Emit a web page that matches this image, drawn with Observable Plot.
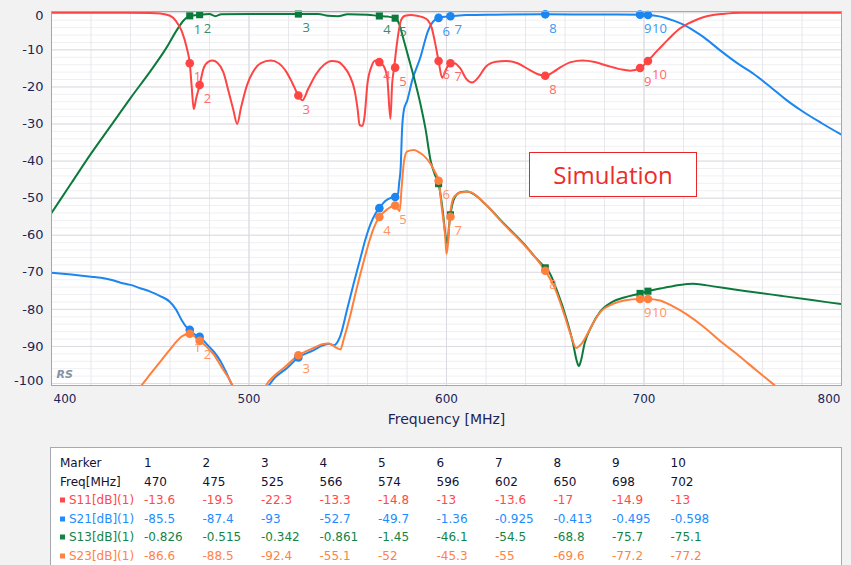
<!DOCTYPE html>
<html><head><meta charset="utf-8">
<script src="https://cdn.jsdelivr.net/npm/d3@7"></script>
<script src="https://cdn.jsdelivr.net/npm/@observablehq/plot@0.6"></script>
<style>
body{margin:0;background:#f2f2f2;}
#wrap{position:relative;width:851px;height:565px;overflow:hidden;background:#f2f2f2;font-family:"DejaVu Sans",sans-serif;}
#chart svg{display:block;}
#sim{position:absolute;left:529px;top:152px;width:166px;height:43px;border:1.5px solid #e8262a;background:#fff;color:#ee2a2a;font:24px "Open Sans",sans-serif;display:flex;align-items:center;justify-content:center;}
#table{position:absolute;left:50px;top:447px;width:790px;height:140px;border:1px solid #a8a8b0;background:#fff;}
.cell{position:absolute;font-size:12px;white-space:nowrap;line-height:1;transform:translateY(-50%);}
.sw{position:absolute;width:5px;height:5px;transform:translateY(-50%);}
</style></head><body><div id="wrap"><div id="chart"></div><div id="sim">Simulation</div><div id="table"></div></div>
<script>
// ---- tick labels ----
const xTicks = [400, 500, 600, 700, 800];
const yTicks = [0, -10, -20, -30, -40, -50, -60, -70, -80, -90, -100];

// ---- markers ----
const markerIds = [1, 2, 3, 4, 5, 6, 7, 8, 9, 10];
const markerFreq = [470, 475, 525, 566, 574, 596, 602, 650, 698, 702];
const s11Mk = [-13.6, -19.5, -22.3, -13.3, -14.8, -13, -13.6, -17, -14.9, -13];
const s21Mk = [-85.5, -87.4, -93, -52.7, -49.7, -1.36, -0.925, -0.413, -0.495, -0.598];
const s13Mk = [-0.826, -0.515, -0.342, -0.861, -1.45, -46.1, -54.5, -68.8, -75.7, -75.1];
const s23Mk = [-86.6, -88.5, -92.4, -55.1, -52, -45.3, -55, -69.6, -77.2, -77.2];

// ---- curves [MHz, dB] ----
const s11 = [[400,0],[430,0],[450,-0.05],[455,-0.2],[460,-0.8],[463,-2.2],[466,-5],[468.5,-9.5],[470,-13.6],[471,-20],[472,-26],[473.3,-23],[475,-19.5],[477,-15],[479.5,-13.2],[481.5,-12.9],[484,-13.5],[487,-16],[489.8,-21.5],[492,-26],[494,-30],[496,-25.5],[499,-19.5],[502,-16],[506,-13.6],[511,-12.9],[515,-13.6],[519,-16],[522,-19],[525,-22.3],[527,-23.6],[530,-20.5],[534,-16.5],[538,-14],[542,-13],[545,-13.2],[548,-14.5],[551,-17],[553.5,-21],[555,-26],[556,-30.3],[557.5,-30.5],[558.5,-28],[560,-19],[562,-14.5],[564,-12.9],[566,-13.3],[568,-14.2],[570,-17.5],[571.6,-28.6],[572.5,-19],[573.5,-14.8],[574.5,-10],[575.5,-6],[577,-2],[579,-0.8],[582,-0.6],[585,-0.8],[588,-1.2],[590.5,-2],[592.5,-4],[594,-7.5],[596,-13],[597.8,-17.5],[600,-15],[602,-13.6],[604,-13.6],[607,-15],[610,-17.8],[613,-18.8],[616,-17.5],[620,-14.5],[625,-13.2],[630,-13],[636,-13.6],[642,-15.4],[646,-16.5],[650,-17],[654,-16],[658,-14.6],[663,-13.3],[669,-12.9],[675,-13.3],[681,-14.2],[688,-15.2],[693,-15.6],[698,-14.9],[702,-13],[705,-11.2],[708.4,-9.3],[712,-7.3],[715,-5.7],[718,-4.3],[722,-3],[726,-2],[730,-1.2],[735,-0.6],[740,-0.3],[749,0],[800,0]];

const s13 = [[400,-54],[410,-46],[420,-38],[430,-30.5],[440,-23],[450,-15.8],[458,-9.6],[464,-4.2],[467,-2],[470,-0.826],[475,-0.515],[480,-0.35],[483,-0.9],[486,-0.4],[500,-0.3],[525,-0.342],[535,-0.3],[540,-0.8],[545,-0.9],[550,-0.4],[560,-0.5],[566,-0.861],[570,-1.0],[574,-1.45],[576,-3],[578.4,-7.5],[581,-12.5],[583.5,-17.4],[586.8,-24.6],[589.4,-31.4],[592,-40],[594,-43.5],[596,-46.1],[598,-53],[599.5,-60],[600.5,-62.5],[601.2,-58],[602,-54.5],[604,-50],[607,-48.4],[610.5,-48.2],[614,-49],[620,-51.8],[629,-56.8],[640,-62.8],[645,-66],[650,-68.8],[652,-70],[656,-75],[661,-83],[664,-89],[666,-94],[667,-95.3],[668,-94],[670,-89],[673,-85],[678,-80.5],[684,-78],[690,-76.8],[698,-75.7],[702,-75.1],[710,-74.2],[718,-73.4],[725,-73.1],[735,-73.8],[745,-74.6],[755,-75.3],[770,-76.4],[785,-77.5],[800,-78.6]];

const s21 = [[400,-70.1],[410,-70.6],[420,-71.2],[425,-71.5],[430,-72],[435,-72.8],[440,-73.4],[445,-74.3],[450,-75.2],[455,-76.4],[460,-78],[463,-80],[466,-83],[468,-84.6],[470,-85.5],[472,-86.6],[475,-87.4],[478.8,-89.5],[482,-91.3],[485.6,-94],[488,-96.5],[491.5,-100.5],[493,-102],[500,-107],[507,-102.5],[510,-100.5],[513,-98.5],[519.3,-95.8],[525,-93],[532.8,-91],[537,-89.8],[540.5,-89.3],[543,-89.7],[546,-87.5],[549.7,-80],[553,-73],[556.5,-66],[559,-61],[561.5,-57],[564,-54.2],[566,-52.7],[569,-50.8],[572,-49.9],[574,-49.7],[575.5,-48.7],[576,-46],[576.8,-41.7],[577.5,-31.5],[578.5,-26],[580.1,-23.7],[582.6,-18.3],[586.8,-12],[590.7,-4.8],[593,-2.5],[596,-1.36],[602,-0.925],[610,-0.6],[625,-0.5],[650,-0.413],[675,-0.45],[698,-0.495],[702,-0.598],[707,-0.9],[711,-1.4],[715,-2.1],[720,-3.2],[725.2,-4.8],[730,-6.5],[738.7,-10.2],[747,-13.5],[755.6,-16.5],[764,-20],[772.5,-23.7],[780,-26.5],[790,-29.8],[800,-32.9]];

const s23 = [[430,-112],[440,-105],[445.9,-100.3],[450,-97.5],[455.2,-94],[459,-91.5],[462,-89.5],[466.2,-87.2],[470,-86.6],[472.5,-87.3],[475,-88.5],[478,-89.8],[482.2,-92.2],[486,-95.5],[490.6,-99.4],[493,-102],[500,-108],[507,-102],[509.2,-100],[512,-98.3],[517.6,-95.8],[525,-92.4],[532.8,-90.4],[537,-89.4],[540,-89.2],[542,-89.5],[544,-90.3],[546.3,-90.8],[548,-88],[551.4,-81.4],[554,-75.5],[558.1,-67],[561,-61.5],[563.2,-58],[566,-55.1],[570,-53],[574,-52],[575.5,-53],[576.3,-53.5],[577.3,-47],[578.5,-40],[580.1,-37.4],[583.5,-37],[586,-37.6],[588.6,-38.6],[592,-40.8],[594,-42.8],[596,-45.3],[597.8,-53.4],[599.3,-60],[600,-65.1],[600.8,-62],[601.7,-55],[603.7,-49.8],[607.1,-48.5],[611.3,-48.3],[615,-49.3],[620,-51.8],[629,-57],[640,-63],[645,-66],[650,-69.6],[655,-74.5],[660,-82],[663,-87],[665.7,-90.4],[668,-89.5],[671.5,-86.5],[675,-83],[678.3,-80.5],[684,-78.6],[690,-77.6],[698,-77.2],[702,-77.2],[708,-77.6],[714,-79],[721.8,-81.4],[730,-84.6],[738.7,-88.6],[748,-92.5],[757,-96.5],[765.7,-100.3],[775,-104.5],[790,-112]];

const seriesNames = ["S11[dB](1)", "S21[dB](1)", "S13[dB](1)", "S23[dB](1)"];
const lineColors = ["#ff4444", "#1b86f0", "#0c7a3c", "#ff7f3c"];
const labelColors = ["#ff6a6a", "#3a98f2", "#3a8c6c", "#ff9460"];
const tableColors = ["#ff4848", "#1e8cff", "#138446", "#ff8244"];

const rows = pts => pts.map(([f, v]) => ({f, v}));
const mk = vals => markerFreq.map((f, i) => ({f, v: vals[i], id: String(markerIds[i])}));

const navy = "#1c2456";
const lineOpt = (c) => ({x: "f", y: "v", stroke: c, strokeWidth: 2, curve: "monotone-x", clip: true});
const lblOpt = (c) => ({x: "f", y: "v", text: "id", dx: 4, dy: 14, textAnchor: "start", fill: c, fontSize: 13, fontFamily: "Open Sans"});

const chart = Plot.plot({
  width: 851, height: 440,
  marginLeft: 51, marginRight: 10, marginTop: 11, marginBottom: 55,
  x: {domain: [400, 800], axis: null},
  y: {domain: [-100.54, 0.35], axis: null},
  style: {background: "#f2f2f2", fontFamily: "DejaVu Sans", overflow: "visible"},
  marks: [
    Plot.frame({fill: "white"}),
    Plot.ruleY(d3.range(-100, 1, 2), {stroke: "#f0f0f3"}),
    Plot.ruleX(d3.range(400, 801, 20), {stroke: "#e8e8ec"}),
    Plot.ruleX(xTicks, {stroke: "#dadae0"}),
    Plot.ruleY(yTicks, {stroke: "#dcdce2"}),
    Plot.line(rows(s21), lineOpt(lineColors[1])),
    Plot.line(rows(s13), lineOpt(lineColors[2])),
    Plot.line(rows(s23), lineOpt(lineColors[3])),
    Plot.line(rows(s11), lineOpt(lineColors[0])),
    Plot.dot(mk(s21Mk), {x: "f", y: "v", r: 4.3, fill: lineColors[1]}),
    Plot.dot(mk(s13Mk), {x: "f", y: "v", r: 4, symbol: "square", fill: lineColors[2]}),
    Plot.dot(mk(s23Mk), {x: "f", y: "v", r: 4.3, fill: lineColors[3]}),
    Plot.dot(mk(s11Mk), {x: "f", y: "v", r: 4.3, fill: lineColors[0]}),
    Plot.text(mk(s13Mk).slice(0, 5), lblOpt(labelColors[2])),
    Plot.text(mk(s21Mk).slice(5), lblOpt(labelColors[1])),
    Plot.text(mk(s23Mk), lblOpt(labelColors[3])),
    Plot.text(mk(s11Mk), lblOpt(labelColors[0])),
    Plot.frame({stroke: "#a4a6b0"}),
    Plot.text(["RS"], {frameAnchor: "bottom-left", dx: 5, dy: -8, textAnchor: "start", fill: "#8592a4", fontSize: 11, fontStyle: "italic", fontWeight: "bold"}),
    // y tick labels
    Plot.text(yTicks.filter(d => d !== 0 && d !== -100), {y: d => d, text: d => String(d), frameAnchor: "left", dx: -8, textAnchor: "end", fill: navy, fontSize: 13}),
    Plot.text([0], {y: d => d, text: d => String(d), frameAnchor: "left", dx: -8, dy: 3, textAnchor: "end", fill: navy, fontSize: 13}),
    Plot.text([-100], {y: d => d, text: d => String(d), frameAnchor: "left", dx: -8, dy: -3, textAnchor: "end", fill: navy, fontSize: 13}),
    // x tick labels
    Plot.text(xTicks.slice(1, -1), {x: d => d, text: d => String(d), frameAnchor: "bottom", dy: 17, fill: navy, fontSize: 12}),
    Plot.text(xTicks.slice(0, 1), {x: d => d, text: d => String(d), frameAnchor: "bottom", dy: 17, dx: 2, textAnchor: "start", fill: navy, fontSize: 12}),
    Plot.text(xTicks.slice(-1), {x: d => d, text: d => String(d), frameAnchor: "bottom", dy: 17, dx: -1, textAnchor: "end", fill: navy, fontSize: 12}),
    Plot.text(["Frequency [MHz]"], {frameAnchor: "bottom", dy: 38, fill: navy, fontSize: 14})
  ]
});
document.getElementById("chart").appendChild(chart);

// ---- marker table ----
const tbl = document.getElementById("table");
function cell(text, left, top, color) {
  const d = document.createElement("div");
  d.className = "cell";
  d.textContent = text;
  d.style.left = left + "px";
  d.style.top = top + "px";
  d.style.color = color;
  tbl.appendChild(d);
}
const rowTop = i => 15 + i * 18.6;
const colLeft = j => 93 + j * 58.5;
cell("Marker", 9, rowTop(0), "#111133");
cell("Freq[MHz]", 9, rowTop(1), "#111133");
markerIds.forEach((m, j) => cell(String(m), colLeft(j), rowTop(0), "#111133"));
markerFreq.forEach((f, j) => cell(String(f), colLeft(j), rowTop(1), "#111133"));
[s11Mk, s21Mk, s13Mk, s23Mk].forEach((vals, i) => {
  const sw = document.createElement("div");
  sw.className = "sw";
  sw.style.left = "9px";
  sw.style.top = rowTop(i + 2) + "px";
  sw.style.background = tableColors[i];
  tbl.appendChild(sw);
  cell(seriesNames[i], 18, rowTop(i + 2), tableColors[i]);
  vals.forEach((v, j) => cell(String(v), colLeft(j), rowTop(i + 2), tableColors[i]));
});
</script></body></html>
